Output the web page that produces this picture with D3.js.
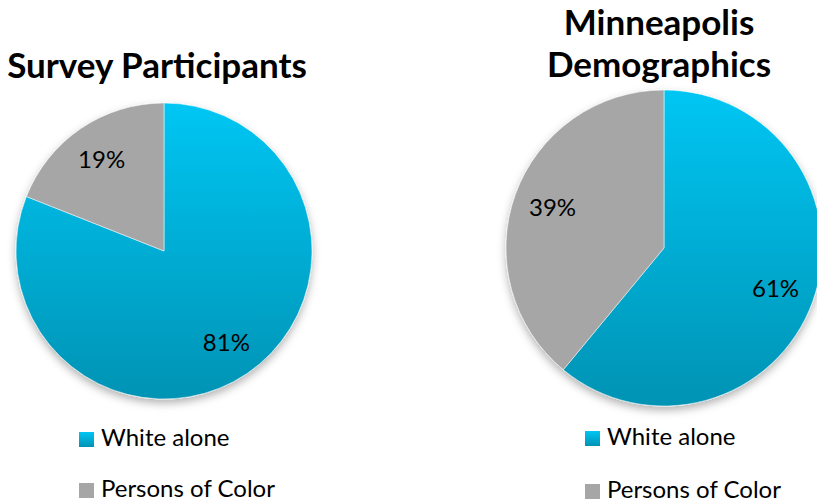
<!DOCTYPE html>
<html>
<head>
<meta charset="utf-8">
<script src="https://cdn.jsdelivr.net/npm/d3@7"></script>
<style>
  body { margin: 0; background: #fff; }
  text { font-family: Lato, "Open Sans", sans-serif; fill: #000; }
</style>
</head>
<body>
<script>
const categories = ["White alone", "Persons of Color"];
const surveyValues = [81, 19];
const cityValues = [61, 39];
const titles = [["Survey Participants"], ["Minneapolis", "Demographics"]];

const width = 817, height = 504;

const svg = d3.select("body").append("svg")
  .attr("width", width)
  .attr("height", height);

const defs = svg.append("defs");

const shadow = defs.append("filter")
  .attr("id", "shadow")
  .attr("x", "-20%").attr("y", "-20%")
  .attr("width", "140%").attr("height", "140%");
shadow.append("feDropShadow")
  .attr("dx", 0).attr("dy", 4)
  .attr("stdDeviation", 4)
  .attr("flood-color", "#000")
  .attr("flood-opacity", 0.3);

// vertical gradient, y0/y1 in the local coords of whatever uses it
function blueGradient(id, y0, y1) {
  const g = defs.append("linearGradient")
    .attr("id", id)
    .attr("gradientUnits", "userSpaceOnUse")
    .attr("x1", 0).attr("x2", 0)
    .attr("y1", y0).attr("y2", y1);
  g.append("stop").attr("offset", "0%").attr("stop-color", "#00c6f3");
  g.append("stop").attr("offset", "100%").attr("stop-color", "#0093b4");
  return "url(#" + id + ")";
}

const pie = d3.pie().sort(null).value(d => d);

// one chart panel: pie + labels + title + legend
function drawPanel(cfg) {
  const r = cfg.radius;
  const blue = blueGradient(cfg.id + "-blue", -r, r);
  const color = d3.scaleOrdinal().domain(categories).range([blue, "#a6a6a6"]);

  const arc = d3.arc().innerRadius(0).outerRadius(r);
  const labelArc = d3.arc().innerRadius(r * 0.5).outerRadius(r);

  const arcs = pie(cfg.values).map((a, i) => Object.assign(a, {cat: categories[i]}));

  const g = svg.append("g")
    .attr("transform", `translate(${cfg.cx},${cfg.cy})`);

  g.append("g")
    .attr("filter", "url(#shadow)")
    .selectAll("path")
    .data(arcs)
    .join("path")
      .attr("d", arc)
      .attr("fill", d => color(d.cat))
      .attr("stroke", "#ffffff")
      .attr("stroke-opacity", 0.5)
      .attr("stroke-width", 1);

  g.selectAll(".lbl")
    .data(arcs)
    .join("text")
      .attr("class", "lbl")
      .attr("transform", d => `translate(${labelArc.centroid(d)})`)
      .attr("text-anchor", "middle")
      .attr("dy", "0.35em")
      .style("font-size", "24px")
      .text(d => d.data + "%");

  svg.append("text")
    .attr("x", cfg.titleX)
    .attr("text-anchor", "middle")
    .style("font-size", "35px")
    .style("font-weight", "bold")
    .selectAll("tspan")
    .data(cfg.title)
    .join("tspan")
      .attr("x", cfg.titleX)
      .attr("y", (d, i) => cfg.titleY + i * 42)
      .text(d => d);

  const legBlue = blueGradient(cfg.id + "-leg", -14, 1);

  const leg = svg.append("g")
    .selectAll("g")
    .data(categories)
    .join("g")
      .attr("transform", (d, i) => `translate(${cfg.legX},${cfg.legY + i * cfg.legStep})`);

  leg.append("rect")
    .attr("x", 0).attr("y", -14)
    .attr("width", 15).attr("height", 15)
    .attr("fill", (d, i) => i === 0 ? legBlue : "#a6a6a6");

  leg.append("text")
    .attr("x", 22)
    .attr("y", 0)
    .style("font-size", "24px")
    .text(d => d);
}

drawPanel({
  id: "survey", values: surveyValues, title: titles[0],
  cx: 164, cy: 251, radius: 148,
  titleX: 157, titleY: 78,
  legX: 79, legY: 446, legStep: 51
});

drawPanel({
  id: "city", values: cityValues, title: titles[1],
  cx: 664, cy: 248, radius: 158,
  titleX: 659, titleY: 35,
  legX: 585, legY: 445, legStep: 53
});
</script>
</body>
</html>
